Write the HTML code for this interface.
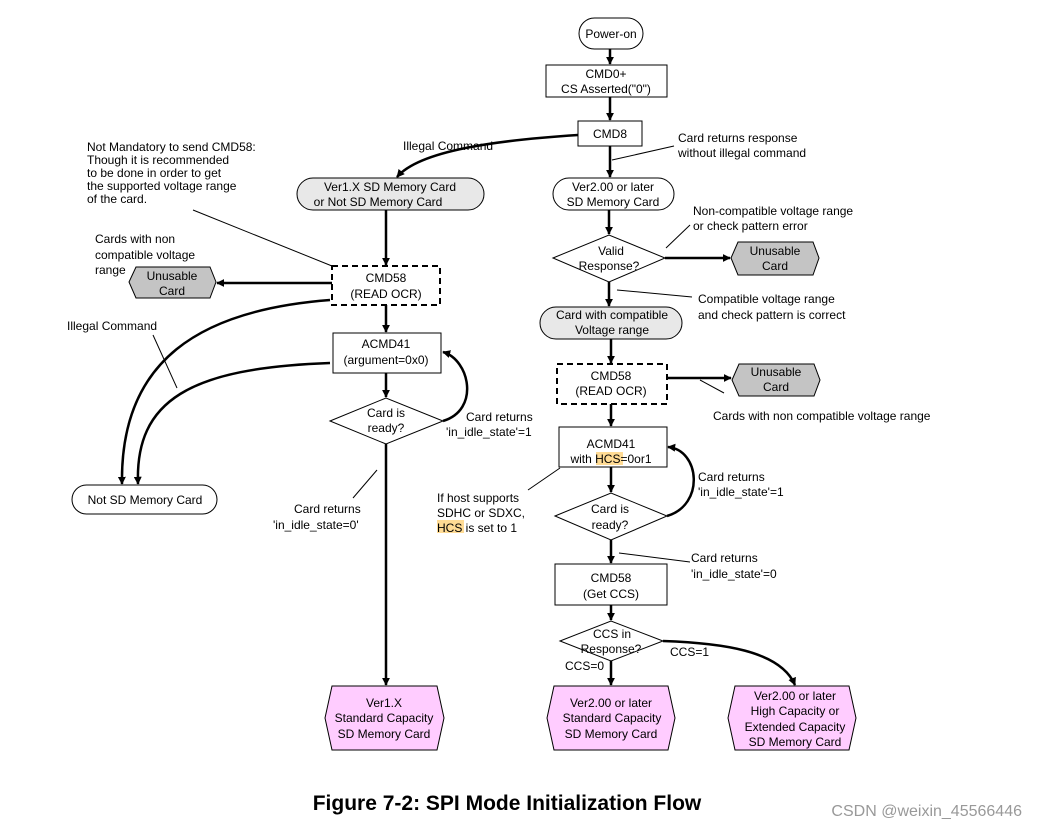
<!DOCTYPE html>
<html><head><meta charset="utf-8"><style>
html,body{margin:0;padding:0;background:#fff;}
svg{display:block;font-family:"Liberation Sans",sans-serif;}
text{font-size:12px;fill:#000;}
</style></head><body>
<svg width="1038" height="830" viewBox="0 0 1038 830" xmlns="http://www.w3.org/2000/svg">
<defs>
<marker id="a" viewBox="0 0 10 10" refX="9" refY="5" markerWidth="3.2" markerHeight="3.2" orient="auto"><path d="M0,0L10,5L0,10z" fill="#000"/></marker>
</defs>
<g fill="none" stroke="#000" stroke-width="1">
<rect x="579" y="18" width="64" height="31" rx="15.5" fill="#fff"/>
<rect x="546" y="65" width="121" height="32" fill="#fff"/>
<rect x="578" y="121" width="64" height="25" fill="#fff"/>
<rect x="553" y="178" width="121" height="32" rx="16" fill="#fff"/>
<rect x="297" y="178" width="187" height="32" rx="16" fill="#e8e8e8"/>
<polygon points="553,258 609,235 665,258 609,282" fill="#fff"/>
<polygon points="738,242 813,242 819,258 813,275 738,275 731,258" fill="#c4c4c4"/>
<rect x="540" y="307" width="142" height="32" rx="16" fill="#e8e8e8"/>
<rect x="557" y="364" width="110" height="40" fill="#fff" stroke-width="2" stroke-dasharray="6,4"/>
<polygon points="739,364 814,364 820,380 814,396 739,396 732,380" fill="#c4c4c4"/>
<rect x="559" y="427" width="108" height="40" fill="#fff"/>
<polygon points="555,516 611,493 667,516 611,540" fill="#fff"/>
<rect x="555" y="564" width="112" height="41" fill="#fff"/>
<polygon points="560,641 611,621 663,641 611,661" fill="#fff"/>
<polygon points="554,686 668,686 675,718 668,750 554,750 547,718" fill="#ffccff"/>
<polygon points="735,686 849,686 856,718 849,750 735,750 728,718" fill="#ffccff"/>
<polygon points="332,686 437,686 444,718 437,750 332,750 325,718" fill="#ffccff"/>
<rect x="332" y="266" width="108" height="39" fill="#fff" stroke-width="2" stroke-dasharray="6,4"/>
<polygon points="136,267 210,267 216,282 210,298 136,298 129,282" fill="#c4c4c4"/>
<rect x="333" y="333" width="108" height="40" fill="#fff"/>
<polygon points="330,421 386,398 443,421 386,444" fill="#fff"/>
<rect x="72" y="485" width="145" height="29" rx="14.5" fill="#fff"/>
</g>
<rect x="596" y="452" width="27" height="13" fill="#ffcc66" opacity="0.7"/>
<rect x="437" y="520" width="27" height="13" fill="#ffcc66" opacity="0.7"/>
<g fill="none" stroke="#000" stroke-width="2.5" marker-end="url(#a)">
<path d="M610,49V64"/>
<path d="M610,97V120"/>
<path d="M610,146V177"/>
<path d="M609,210V234"/>
<path d="M609,282V306"/>
<path d="M665,258H730"/>
<path d="M611,339V363"/>
<path d="M667,378H731"/>
<path d="M611,404V426"/>
<path d="M611,467V492"/>
<path d="M611,540V563"/>
<path d="M611,605V620"/>
<path d="M611,661V685"/>
<path d="M663,641C720,643 780,650 795,685"/>
<path d="M667,516C705,505 700,450 668,447"/>
<path d="M578,135C500,140 420,150 397,177"/>
<path d="M386,210V265"/>
<path d="M332,283H217"/>
<path d="M386,305V332"/>
<path d="M386,373V397"/>
<path d="M386,444V685"/>
<path d="M443,421C480,410 470,360 443,352"/>
<path d="M330,300C200,310 120,360 122,484"/>
<path d="M330,363C190,368 135,400 138,484"/>
</g>
<g fill="none" stroke="#000" stroke-width="1">
<path d="M612,160L674,146"/>
<path d="M666,248L690,225"/>
<path d="M617,290L692,297"/>
<path d="M700,380L724,393"/>
<path d="M560,468L528,490"/>
<path d="M619,553L690,562"/>
<path d="M193,210L332,266"/>
<path d="M153,335L177,388"/>
<path d="M377,470L353,498"/>
</g>
<g text-anchor="middle">
<text x="611" y="38">Power-on</text>
<text x="606" y="78">CMD0+</text>
<text x="606" y="93">CS Asserted("0")</text>
<text x="610" y="138">CMD8</text>
<text x="613" y="191">Ver2.00 or later</text>
<text x="613" y="206">SD Memory Card</text>
<text x="390" y="191">Ver1.X SD Memory Card</text>
<text x="378" y="206">or Not SD Memory Card</text>
<text x="611" y="255">Valid</text>
<text x="609" y="270">Response?</text>
<text x="775" y="255">Unusable</text>
<text x="775" y="270">Card</text>
<text x="612" y="319">Card with compatible</text>
<text x="612" y="334">Voltage range</text>
<text x="611" y="380">CMD58</text>
<text x="611" y="395">(READ OCR)</text>
<text x="776" y="376">Unusable</text>
<text x="776" y="391">Card</text>
<text x="611" y="448">ACMD41</text>
<text x="611" y="463">with HCS=0or1</text>
<text x="610" y="513">Card is</text>
<text x="610" y="529">ready?</text>
<text x="611" y="582">CMD58</text>
<text x="611" y="598">(Get CCS)</text>
<text x="612" y="638">CCS in</text>
<text x="611" y="653">Response?</text>
<text x="611" y="707">Ver2.00 or later</text>
<text x="612" y="722">Standard Capacity</text>
<text x="611" y="738">SD Memory Card</text>
<text x="795" y="700">Ver2.00 or later</text>
<text x="795" y="715">High Capacity or</text>
<text x="795" y="731">Extended Capacity</text>
<text x="795" y="746">SD Memory Card</text>
<text x="384" y="707">Ver1.X</text>
<text x="384" y="722">Standard Capacity</text>
<text x="384" y="738">SD Memory Card</text>
<text x="386" y="282">CMD58</text>
<text x="386" y="298">(READ OCR)</text>
<text x="172" y="280">Unusable</text>
<text x="172" y="295">Card</text>
<text x="386" y="348">ACMD41</text>
<text x="386" y="364">(argument=0x0)</text>
<text x="386" y="417">Card is</text>
<text x="386" y="432">ready?</text>
<text x="145" y="504">Not SD Memory Card</text>
</g>
<g font-size="12">
<text x="403" y="150">Illegal Command</text>
<text x="678" y="142">Card returns response</text>
<text x="678" y="157">without illegal command</text>
<text x="693" y="215">Non-compatible voltage range</text>
<text x="693" y="230">or check pattern error</text>
<text x="698" y="303">Compatible voltage range</text>
<text x="698" y="319">and check pattern is correct</text>
<text x="713" y="420">Cards with non compatible voltage range</text>
<text x="698" y="481">Card returns</text>
<text x="698" y="496">'in_idle_state'=1</text>
<text x="437" y="502">If host supports</text>
<text x="437" y="517">SDHC or SDXC,</text>
<text x="437" y="532">HCS is set to 1</text>
<text x="691" y="562">Card returns</text>
<text x="691" y="578">'in_idle_state'=0</text>
<text x="565" y="670">CCS=0</text>
<text x="670" y="656">CCS=1</text>
<text x="466" y="421">Card returns</text>
<text x="446" y="436">'in_idle_state'=1</text>
<text x="294" y="513">Card returns</text>
<text x="273" y="529">'in_idle_state=0'</text>
<text x="95" y="243">Cards with non</text>
<text x="95" y="259">compatible voltage</text>
<text x="95" y="274">range</text>
<text x="67" y="330">Illegal Command</text>
<g font-size="10.5"><text x="87" y="151">Not Mandatory to send CMD58:</text>
<text x="87" y="164">Though it is recommended</text>
<text x="87" y="177">to be done in order to get</text>
<text x="87" y="190">the supported voltage range</text>
<text x="87" y="203">of the card.</text></g>
</g>
<text x="507" y="810" text-anchor="middle" style="font-size:21px;font-weight:bold">Figure 7-2: SPI Mode Initialization Flow</text>
<text x="1022" y="816" text-anchor="end" style="font-size:16px;fill:#999">CSDN @weixin_45566446</text>
</svg>
</body></html>
